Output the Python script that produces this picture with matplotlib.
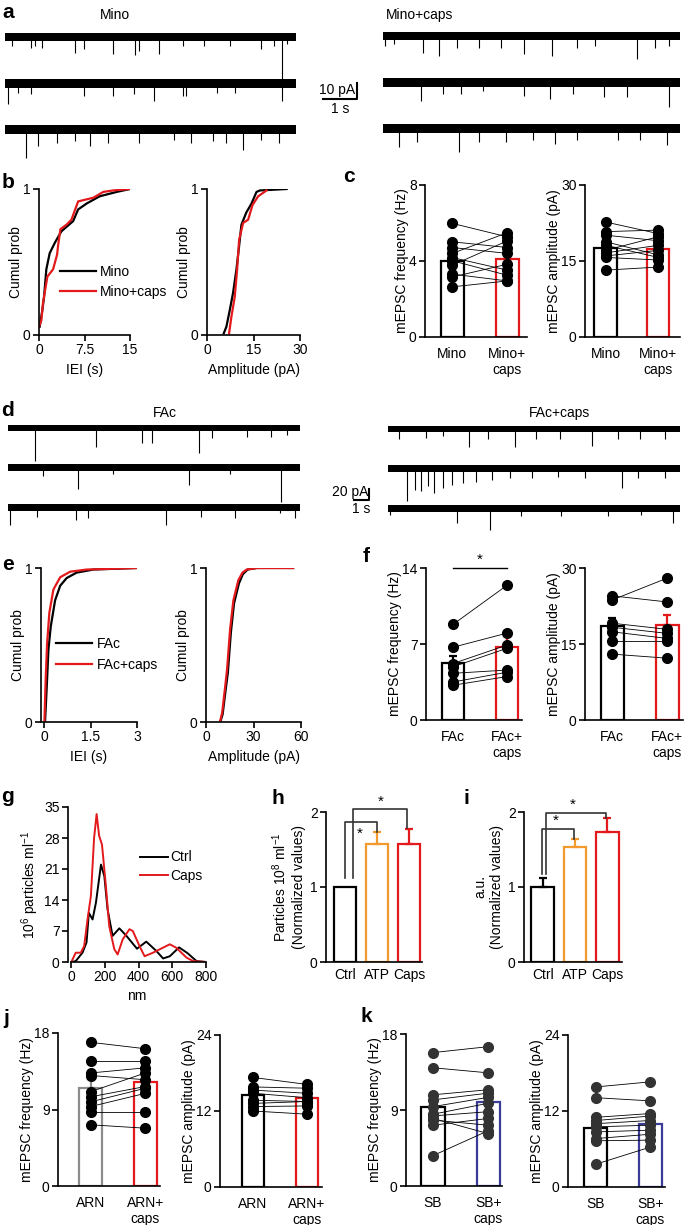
import numpy as np
import matplotlib
matplotlib.use('Agg')
import matplotlib.pyplot as plt

plt.rcParams['font.family'] = ['Liberation Sans', 'DejaVu Sans']
plt.rcParams['mathtext.default'] = 'regular'
plt.rcParams['font.size'] = 10

RED = '#e3191c'
ORANGE = '#f39a2e'
BLUE = '#3b3c98'
GREY = '#8c8c8c'

# ---------------- data ----------------
# a: spike times (s) and depths (pA) for each trace row
a_mino_t = [[0.2, 0.77, 0.89, 1.09, 2.04, 2.3, 3.15, 3.8, 3.9, 4.5, 5.19, 5.81, 6.58, 7.48, 7.86, 8.09, 8.25],
            [0.09, 0.38, 0.77, 2.3, 3.15, 3.77, 4.34, 5.19, 5.3, 6.2, 6.72, 8.08],
            [0.6, 0.96, 1.53, 2.04, 2.49, 3.0, 3.9, 4.93, 5.44, 6.07, 6.46, 6.94, 7.48, 7.99]]
a_mino_amp = [[5.6, 6.7, 5.6, 6.7, 9.8, 7.7, 10.4, 11.2, 8.75, 10.4, 5.6, 5.6, 5.6, 7.7, 5.6, 27.5, 4.6],
              [13.1, 5.8, 6.9, 7.9, 7.9, 6.9, 11, 7.9, 7.9, 5.8, 5.8, 11],
              [17.7, 10.4, 8.3, 7.3, 10.4, 8.3, 8.3, 6.25, 8.3, 7.3, 8.3, 12.9, 6.25, 8.3]]
a_caps_t = [[0.07, 0.32, 1.15, 1.6, 2.11, 2.75, 3.38, 4.03, 4.85, 5.56, 6.07, 7.28, 7.79, 8.18],
            [1.09, 1.73, 2.24, 2.87, 4.03, 4.79, 5.43, 6.32, 6.97, 8.18],
            [0.45, 0.96, 2.18, 2.75, 3.52, 4.28, 4.92, 5.56, 6.72, 7.35, 8.12]]
a_caps_amp = [[6.25, 5.2, 10.4, 12.5, 7.3, 7.3, 7.3, 11.5, 12.5, 7.3, 6.25, 14.6, 7.3, 6.25],
              [11.5, 7.3, 7.3, 5.2, 8.3, 10.4, 7.3, 9.4, 9.4, 15.6],
              [11.5, 8.3, 14.6, 8.3, 8.3, 7.3, 9.4, 7.3, 7.3, 7.3, 10.4]]

# b: cumulative distributions
b_iei_mino_x = [0.11, 0.55, 0.83, 1.21, 1.76, 2.59, 3.69, 4.52, 5.63, 6.45, 7.83, 10.0, 12.8, 15.0]
b_iei_mino_y = [0.057, 0.17, 0.26, 0.45, 0.56, 0.63, 0.71, 0.74, 0.78, 0.86, 0.90, 0.95, 0.98, 1.0]
b_iei_caps_x = [0.0, 0.39, 0.66, 0.94, 1.38, 2.32, 2.98, 3.14, 3.53, 4.52, 5.35, 6.45, 8.93, 10.6, 12.2, 15.0]
b_iei_caps_y = [0.057, 0.10, 0.22, 0.29, 0.40, 0.45, 0.55, 0.61, 0.725, 0.755, 0.79, 0.915, 0.94, 0.98, 0.99, 1.0]
b_amp_mino_x = [5.4, 6.26, 7.34, 8.42, 9.5, 10.36, 11.1, 12.7, 14.35, 15.97, 17.05, 25.7]
b_amp_mino_y = [0.011, 0.057, 0.17, 0.29, 0.45, 0.61, 0.755, 0.84, 0.9, 0.98, 0.99, 1.0]
b_amp_caps_x = [7.12, 7.88, 8.96, 9.71, 10.36, 11.65, 13.27, 14.68, 16.5, 19.2]
b_amp_caps_y = [0.011, 0.126, 0.263, 0.446, 0.652, 0.767, 0.79, 0.89, 0.95, 0.99]

# c: paired values
c_freq_mino = [5.98, 5.01, 4.71, 4.40, 4.18, 4.01, 3.78, 3.31, 3.16, 2.64]
c_freq_caps = [5.27, 4.71, 4.40, 5.49, 3.52, 3.25, 5.06, 2.95, 3.83, 2.95]
c_freq_bar = [4.0, 4.13]
c_freq_err = [0.3, 0.35]
c_amp_mino = [22.7, 20.8, 20.1, 18.8, 18.1, 17.1, 16.6, 16.0, 15.7, 13.2]
c_amp_caps = [20.4, 21.1, 19.0, 16.2, 15.7, 19.8, 18.1, 17.1, 15.2, 13.8]
c_amp_bar = [17.6, 17.4]
c_amp_err = [1.2, 0.9]

# d: spike times (s) and depths (pA)
d_fac_t = [[1.88, 6.06, 9.16, 9.84, 13.1, 13.94, 16.36, 18.0, 19.1],
           [2.4, 4.78, 7.2, 12.42, 15.2, 18.72],
           [0.16, 2.0, 4.68, 5.5, 10.84, 13.2, 15.56, 18.6, 19.64]]
d_fac_amp = [[60, 34, 28, 28, 45, 19, 16, 16, 13.5],
             [15, 38, 12, 32, 12, 62],
             [32, 17, 23, 20, 32, 17, 20, 11, 20]]
d_caps_t = [[0.76, 2.58, 3.78, 5.54, 6.82, 8.7, 10.16, 11.8, 14.0, 15.76, 17.28, 18.94],
            [1.3, 1.82, 2.28, 2.72, 3.18, 3.78, 4.4, 5.16, 6.06, 7.12, 8.34, 9.84, 11.66, 13.48, 16.06, 17.12, 18.94],
            [0.12, 4.72, 7.0, 9.08, 11.84, 15.06, 17.36, 19.54]]
d_caps_amp = [[19, 16, 13, 33.5, 19, 33.5, 19, 19, 30.6, 19, 19, 19],
              [59, 38, 41, 32, 44, 35, 29, 26, 23.5, 20.6, 17.6, 17.6, 14.7, 17.6, 35, 17.6, 17.6],
              [12, 27, 39, 15, 15, 15, 12, 27]]

# e: cumulative distributions
e_iei_fac_x = [0.03, 0.086, 0.14, 0.215, 0.355, 0.52, 0.73, 1.05, 1.59, 2.99]
e_iei_fac_y = [0, 0.23, 0.47, 0.62, 0.79, 0.885, 0.935, 0.97, 0.99, 1.0]
e_iei_caps_x = [0.01, 0.05, 0.097, 0.17, 0.30, 0.52, 0.84, 1.38, 2.99]
e_iei_caps_y = [0, 0.27, 0.51, 0.71, 0.86, 0.94, 0.976, 0.99, 1.0]
e_amp_fac_x = [9.0, 10.5, 12.3, 13.8, 15.7, 17.7, 20.8, 23.3, 26.3, 32, 55]
e_amp_fac_y = [0, 0.05, 0.2, 0.32, 0.58, 0.77, 0.9, 0.96, 0.99, 1.0, 1.0]
e_amp_caps_x = [8.8, 10.2, 12.0, 13.3, 15.2, 17.3, 20.4, 23.0, 25.7, 32, 55]
e_amp_caps_y = [0, 0.06, 0.22, 0.34, 0.6, 0.79, 0.92, 0.97, 0.99, 1.0, 1.0]

# f: paired values
f_freq_fac = [8.8, 6.7, 5.2, 4.9, 4.3, 3.5, 3.2]
f_freq_caps = [12.4, 8.0, 6.9, 6.6, 4.6, 4.4, 4.0]
f_freq_bar = [5.28, 6.7]
f_freq_err = [0.62, 1.07]
f_amp_fac = [24.5, 23.7, 19.1, 18.3, 17.4, 15.5, 13.0]
f_amp_caps = [23.3, 28.0, 17.9, 17.1, 16.1, 15.5, 12.2]
f_amp_bar = [18.55, 18.68]
f_amp_err = [1.5, 2.0]

# g: particle size distribution
g_ctrl_nm = [0, 26, 66, 90, 104, 126, 146, 176, 196, 215, 245, 285, 325, 390, 445, 505, 545, 585, 640, 690, 744, 800]
g_ctrl_val = [0, 0.2, 2.1, 4.4, 11.1, 9.6, 13.4, 22.0, 19.4, 11.9, 5.9, 7.6, 6.0, 3.0, 4.6, 2.5, 0.8, 1.3, 3.3, 2.0, 0.2, 0]
g_caps_nm = [0, 26, 56, 76, 96, 116, 135, 150, 165, 182, 205, 225, 255, 275, 305, 345, 365, 405, 435, 485, 585, 624, 684, 724, 800]
g_caps_val = [0, 2.1, 2.1, 3.6, 9.6, 14.9, 28, 33.4, 28.5, 26.5, 17.2, 8.1, 2.9, 1.7, 5.1, 7.4, 7.0, 3.6, 1.3, 2.1, 4.0, 3.2, 1.0, 0.2, 0]

# h, i: normalized bars
hi_groups = ['Ctrl', 'ATP', 'Caps']
h_bar = [1.0, 1.57, 1.57]
h_err = [0.0, 0.17, 0.20]
i_bar = [1.0, 1.53, 1.73]
i_err = [0.12, 0.11, 0.19]

# j, k: paired values
j_freq_arn = [16.9, 14.7, 13.3, 13.0, 11.1, 10.5, 9.9, 9.35, 8.76, 7.2]
j_freq_caps = [16.15, 14.7, 13.9, 12.5, 13.3, 11.7, 11.5, 10.9, 8.76, 6.8]
j_freq_bar = [11.5, 12.2]
j_freq_err = [1.5, 0.8]
j_amp_arn = [17.3, 15.8, 15.3, 14.8, 13.7, 13.2, 12.7, 12.0]
j_amp_caps = [16.2, 15.6, 14.8, 14.1, 13.5, 13.5, 12.8, 11.5]
j_amp_bar = [14.6, 14.1]
j_amp_err = [0.6, 0.5]
k_freq_sb = [15.8, 14.0, 10.8, 10.2, 9.4, 8.5, 8.3, 8.0, 7.8, 7.2, 3.6]
k_freq_caps = [16.5, 13.4, 11.4, 11.0, 10.5, 9.8, 8.8, 6.2, 7.2, 8.0, 6.55]
k_freq_bar = [9.32, 9.91]
k_freq_err = [0.6, 0.5]
k_amp_sb = [15.8, 14.1, 11.0, 10.5, 10.0, 9.5, 8.7, 7.65, 7.3, 3.6]
k_amp_caps = [16.6, 13.6, 11.6, 11.2, 10.5, 9.76, 8.97, 8.33, 7.4, 6.3]
k_amp_bar = [9.33, 9.9]
k_amp_err = [0.95, 0.9]

# ---------------- figure ----------------
W, H = 685, 1225
fig = plt.figure(figsize=(W / 100, H / 100), dpi=100)


def px_axes(x0, y0, x1, y1):
    return fig.add_axes([x0 / W, 1 - y1 / H, (x1 - x0) / W, (y1 - y0) / H])


def ftext(x, y, s, **kw):
    fig.text(x / W, 1 - y / H, s, **kw)


def style(ax):
    for s in ['top', 'right']:
        ax.spines[s].set_visible(False)
    for s in ['left', 'bottom']:
        ax.spines[s].set_linewidth(1.2)
    ax.tick_params(direction='out', length=4, width=1.2, labelsize=10, pad=2)


def traces(box, base_px, px_pa, dur, gap, half, times, amps):
    x0, y0, x1, y1 = box
    ax = px_axes(x0, y0, x1, y1)
    for k in range(len(times)):
        base = -k * gap
        ax.fill_between([0, dur], base - half, base + half, color='black', lw=0)
        ax.vlines(times[k], base - np.array(amps[k]), base, color='black', lw=0.8)
    ax.set_xlim(0, dur)
    ax.set_ylim(-(y1 - base_px) / px_pa, (base_px - y0) / px_pa)
    ax.axis('off')
    return ax


def scalebar(ax, x, y, sec, pa, lab_pa, lab_s):
    ax.plot([x - sec, x, x], [y, y, y + pa], color='black', lw=1.5, clip_on=False)
    ax.text(x - sec * 0.05, y + pa * 0.1, lab_pa, ha='right', va='bottom', fontsize=10)
    ax.text(x - sec / 2, y - pa * 0.2, lab_s, ha='center', va='top', fontsize=10)


def cdf(box, curves, xlim, xticks, xticklabels, xlabel, legend=None, anchor=None):
    ax = px_axes(*box)
    hs = []
    for x, y, c in curves:
        hs += ax.plot(x, y, color=c, lw=1.6)
    style(ax)
    ax.set_xlim(*xlim)
    ax.set_ylim(0, 1)
    ax.set_xticks(xticks)
    ax.set_xticklabels(xticklabels)
    ax.set_yticks([0, 1])
    ax.set_xlabel(xlabel, fontsize=10, labelpad=4)
    ax.set_ylabel('Cumul prob', fontsize=10, labelpad=0)
    ax.spines['left'].set_bounds(0, 1)
    if legend:
        ax.legend(hs, legend, loc='upper left', bbox_to_anchor=anchor, frameon=False,
                  borderpad=0, borderaxespad=0, handlelength=2.6, handletextpad=0.3,
                  labelspacing=0.45, fontsize=10)
    return ax


def paired(box, left, right, bars, errs, colors, xlim, ylim, yticks, xlabels, ylabel, dot='black'):
    ax = px_axes(*box)
    ax.bar([0, 1], bars, width=0.42, color='white', edgecolor=colors, linewidth=1.6, zorder=1)
    for i in range(2):
        ax.errorbar(i, bars[i], yerr=[[0], [errs[i]]], color=colors[i], capsize=3,
                    elinewidth=1.6, capthick=1.6, zorder=2)
    for l, r in zip(left, right):
        ax.plot([0, 1], [l, r], color='black', lw=0.6, zorder=3)
    ax.plot(np.zeros(len(left)), left, 'o', color=dot, ms=7, zorder=4, clip_on=False)
    ax.plot(np.ones(len(right)), right, 'o', color=dot, ms=7, zorder=4, clip_on=False)
    style(ax)
    ax.set_xlim(*xlim)
    ax.set_ylim(*ylim)
    ax.set_yticks(yticks)
    ax.set_xticks([0, 1])
    ax.set_xticklabels(xlabels)
    ax.tick_params(axis='x', length=0, pad=7)
    ax.set_ylabel(ylabel, fontsize=10, labelpad=0)
    return ax


# ---- a ----
ftext(8, 12, 'a', fontsize=15, fontweight='bold', ha='center', va='center')
ftext(115, 15, 'Mino', ha='center', va='center')
ftext(420, 15, 'Mino+caps', ha='center', va='center')
ax_a = traces((5, 22, 296, 165), 37, 1.6, 8.5, 29, 2.8, a_mino_t, a_mino_amp)
traces((383, 21, 680, 164), 36, 1.6, 8.5, 29, 2.8, a_caps_t, a_caps_amp)
scalebar(ax_a, 10.29, -38.8, 1.0, 10, '10 pA', '1 s')

# ---- b ----
ftext(8, 183, 'b', fontsize=15, fontweight='bold', ha='center', va='center')
cdf((39, 189, 130, 335), [(b_iei_mino_x, b_iei_mino_y, 'black'), (b_iei_caps_x, b_iei_caps_y, RED)],
    (0, 15), [0, 7.5, 15], ['0', '7.5', '15'], 'IEI (s)', ['Mino', 'Mino+caps'], (0.23, 0.48))
cdf((207, 189, 300, 335), [(b_amp_mino_x, b_amp_mino_y, 'black'), (b_amp_caps_x, b_amp_caps_y, RED)],
    (0, 30), [0, 15, 30], ['0', '15', '30'], 'Amplitude (pA)')

# ---- c ----
ftext(349, 176, 'c', fontsize=15, fontweight='bold', ha='center', va='center')
paired((425, 185, 527, 337), c_freq_mino, c_freq_caps, c_freq_bar, c_freq_err, ['black', RED],
       (-0.5, 1.36), (0, 8), [0, 4, 8], ['Mino', 'Mino+\ncaps'], 'mEPSC frequency (Hz)')
paired((585, 185, 680, 337), c_amp_mino, c_amp_caps, c_amp_bar, c_amp_err, ['black', RED],
       (-0.39, 1.41), (0, 30), [0, 15, 30], ['Mino', 'Mino+\ncaps'], 'mEPSC amplitude (pA)')

# ---- d ----
ftext(8, 410, 'd', fontsize=15, fontweight='bold', ha='center', va='center')
ftext(165, 413, 'FAc', ha='center', va='center')
ftext(560, 413, 'FAc+caps', ha='center', va='center')
ax_d = traces((8, 418, 300, 550), 428, 0.55, 20, 72, 6.3, d_fac_t, d_fac_amp)
traces((388, 418, 680, 550), 429, 0.55, 20, 72, 6.3, d_caps_t, d_caps_amp)
scalebar(ax_d, 24.7, -131, 1.0, 20, '20 pA', '1 s')

# ---- e ----
ftext(8, 564, 'e', fontsize=15, fontweight='bold', ha='center', va='center')
cdf((41, 568, 137, 722), [(e_iei_fac_x, e_iei_fac_y, 'black'), (e_iei_caps_x, e_iei_caps_y, RED)],
    (-0.1, 3), [0, 1.5, 3], ['0', '1.5', '3'], 'IEI (s)', ['FAc', 'FAc+caps'], (0.16, 0.55))
cdf((206, 568, 301, 722), [(e_amp_fac_x, e_amp_fac_y, 'black'), (e_amp_caps_x, e_amp_caps_y, RED)],
    (0, 60), [0, 30, 60], ['0', '30', '60'], 'Amplitude (pA)')

# ---- f ----
ftext(366, 557, 'f', fontsize=15, fontweight='bold', ha='center', va='center')
ax_f = paired((426, 568, 522, 720), f_freq_fac, f_freq_caps, f_freq_bar, f_freq_err, ['black', RED],
              (-0.5, 1.28), (0, 14), [0, 7, 14], ['FAc', 'FAc+\ncaps'], 'mEPSC frequency (Hz)')
ax_f.plot([0, 1], [14, 14], color='black', lw=1.0, clip_on=False)
ax_f.text(0.5, 14.1, '*', ha='center', va='bottom', fontsize=11)
paired((585, 568, 683, 720), f_amp_fac, f_amp_caps, f_amp_bar, f_amp_err, ['black', RED],
       (-0.5, 1.29), (0, 30), [0, 15, 30], ['FAc', 'FAc+\ncaps'], 'mEPSC amplitude (pA)')

# ---- g ----
ftext(7, 796, 'g', fontsize=15, fontweight='bold', ha='center', va='center')
ax_g = px_axes(68, 807, 206, 962)
l1, = ax_g.plot(g_ctrl_nm, g_ctrl_val, color='black', lw=1.4)
l2, = ax_g.plot(g_caps_nm, g_caps_val, color=RED, lw=1.4)
style(ax_g)
ax_g.set_xlim(-20, 800)
ax_g.set_ylim(0, 35)
ax_g.spines['bottom'].set_bounds(0, 800)
ax_g.set_xticks([0, 200, 400, 600, 800])
ax_g.set_yticks([0, 7, 14, 21, 28, 35])
ax_g.set_xlabel('nm', fontsize=10, labelpad=3)
ax_g.set_ylabel('10$^6$ particles ml$^{-1}$', fontsize=10, labelpad=2)
ax_g.legend([l1, l2], ['Ctrl', 'Caps'], loc='upper left', bbox_to_anchor=(0.52, 0.72), frameon=False,
            borderpad=0, borderaxespad=0, handlelength=2.0, handletextpad=0.2, labelspacing=0.35, fontsize=10)


# ---- h, i ----
def norm_bars(box, bars, errs, xlim, ylabel, brackets, stars):
    ax = px_axes(*box)
    colors = ['black', ORANGE, RED]
    x = np.arange(len(bars))
    ax.bar(x, bars, width=0.7, color='white', edgecolor=colors, linewidth=1.6, zorder=1)
    for i in range(len(bars)):
        if errs[i] > 0:
            ax.errorbar(i, bars[i], yerr=[[0], [errs[i]]], color=colors[i], capsize=3,
                        elinewidth=1.6, capthick=1.6, zorder=2)
    for xl, yl, yt, xr, yr in brackets:
        ax.plot([xl, xl, xr, xr], [yl, yt, yt, yr], color='#333333', lw=1.2, clip_on=False, zorder=3)
    for sx, sy in stars:
        ax.text(sx, sy, '*', ha='center', va='center', fontsize=11)
    style(ax)
    ax.set_xlim(*xlim)
    ax.set_ylim(0, 2)
    ax.set_yticks([0, 1, 2])
    ax.set_xticks(x)
    ax.set_xticklabels(hi_groups)
    ax.tick_params(axis='x', length=0, pad=4)
    ax.set_ylabel(ylabel, fontsize=10, labelpad=3)
    return ax


ftext(278, 798, 'h', fontsize=15, fontweight='bold', ha='center', va='center')
norm_bars((326, 812, 422, 962), h_bar, h_err, (-0.6, 2.4),
          'Particles 10$^8$ ml$^{-1}$\n(Normalized values)',
          [(0.0, 1.12, 1.87, 0.99, 1.74), (0.24, 1.12, 2.04, 1.93, 1.79)],
          [(0.44, 1.71), (1.12, 2.13)])
ftext(466, 798, 'i', fontsize=15, fontweight='bold', ha='center', va='center')
norm_bars((524, 812, 622, 962), i_bar, i_err, (-0.58, 2.45),
          'a.u.\n(Normalized values)',
          [(-0.02, 1.17, 1.78, 0.98, 1.64), (0.1, 1.17, 1.99, 1.97, 1.92)],
          [(0.41, 1.88), (0.92, 2.1)])

# ---- j ----
ftext(6, 1018, 'j', fontsize=15, fontweight='bold', ha='center', va='center')
paired((58, 1033, 160, 1186), j_freq_arn, j_freq_caps, j_freq_bar, j_freq_err, [GREY, RED],
       (-0.6, 1.27), (0, 18), [0, 9, 18], ['ARN', 'ARN+\ncaps'], 'mEPSC frequency (Hz)')
paired((220, 1035, 322, 1187), j_amp_arn, j_amp_caps, j_amp_bar, j_amp_err, ['black', RED],
       (-0.61, 1.28), (0, 24), [0, 12, 24], ['ARN', 'ARN+\ncaps'], 'mEPSC amplitude (pA)')

# ---- k ----
ftext(366, 1017, 'k', fontsize=15, fontweight='bold', ha='center', va='center')
paired((406, 1034, 502, 1186), k_freq_sb, k_freq_caps, k_freq_bar, k_freq_err, ['black', BLUE],
       (-0.49, 1.25), (0, 18), [0, 9, 18], ['SB', 'SB+\ncaps'], 'mEPSC frequency (Hz)', dot='#333333')
paired((568, 1035, 665, 1187), k_amp_sb, k_amp_caps, k_amp_bar, k_amp_err, ['black', BLUE],
       (-0.51, 1.27), (0, 24), [0, 12, 24], ['SB', 'SB+\ncaps'], 'mEPSC amplitude (pA)', dot='#333333')

fig.savefig('out.png', dpi=100)
